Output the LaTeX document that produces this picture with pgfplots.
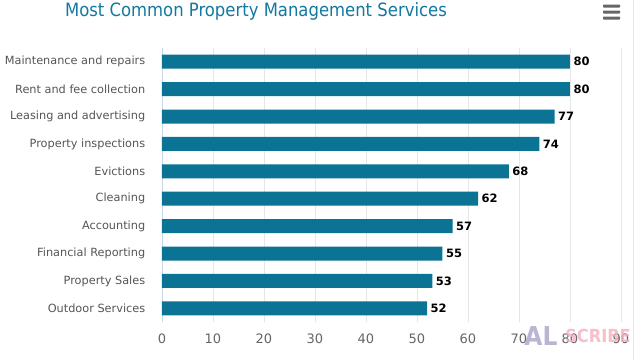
\documentclass[border=0pt]{standalone}
\usepackage{pgfplots}
\pgfplotsset{compat=1.18}
\usepackage{fontspec}
\setmainfont{DejaVu Sans}
\newfontfamily\condfont{DejaVu Sans Condensed}
\definecolor{barc}{HTML}{0B7394}
\definecolor{titlec}{HTML}{1279A0}
\definecolor{labc}{HTML}{555555}
\definecolor{tickc}{HTML}{666666}
\definecolor{gridc}{HTML}{E6E6E6}
\definecolor{axc}{HTML}{CCD6EB}
\definecolor{wmA}{HTML}{A9A3C9}
\definecolor{wmB}{HTML}{F5AFC0}
\begin{document}
\begin{tikzpicture}
\useasboundingbox (0pt,0pt) rectangle (638pt,360pt);
\fill[white] (0pt,0pt) rectangle (638pt,360pt);
\draw[gridc] (633pt,0pt) -- (633pt,360pt);
\node[anchor=center, text=titlec, font=\condfont\fontsize{18.3}{21}\selectfont] at (256pt,349pt) {Most Common Property Management Services};
\foreach \yy in {342,348,354} {\fill[gray!80!black, rounded corners=0.6pt] (603pt,\yy pt-1.5pt) rectangle (620pt,\yy pt+1.5pt);}
\begin{axis}[
  at={(162pt,38pt)}, anchor=south west,
  scale only axis, width=459pt, height=274pt,
  xbar, bar width=14pt,
  xmin=0, xmax=90,
  ymin=-0.5, ymax=9.5,
  xtick={0,10,...,90},
  ytick={0,...,9},
  yticklabels={Outdoor Services,Property Sales,Financial Reporting,Accounting,Cleaning,Evictions,Property inspections,Leasing and advertising,Rent and fee collection,Maintenance and repairs},
  xmajorgrids, grid style={gridc, line width=0.8pt},
  axis x line*=bottom, axis y line*=left,
  x axis line style={draw=none},
  y axis line style={axc, line width=0.8pt},
  tick style={draw=none},
  xticklabel style={text=tickc, font=\fontsize{13}{14}\selectfont, yshift=-8pt},
  yticklabel style={text=labc, font=\fontsize{11.3}{12}\selectfont, xshift=-9pt},
  /pgf/number format/assume math mode=true,
  nodes near coords,
  every node near coord/.append style={text=black, font=\bfseries\fontsize{11.5}{12}\selectfont},
  clip=false,
]
\addplot[fill=barc, draw=none] coordinates {
(52,0) (53,1) (55,2) (57,3) (62,4) (68,5) (74,6) (77,7) (80,8) (80,9)
};
\end{axis}
\node[font=\condfont\bfseries\fontsize{26}{28}\selectfont, text=wmA, opacity=0.8] at (541pt,24pt) {AL};
\node[font=\condfont\bfseries\fontsize{18}{20}\selectfont, text=wmB, opacity=0.8] at (598pt,24pt) {SCRIBE};
\end{tikzpicture}
\end{document}
